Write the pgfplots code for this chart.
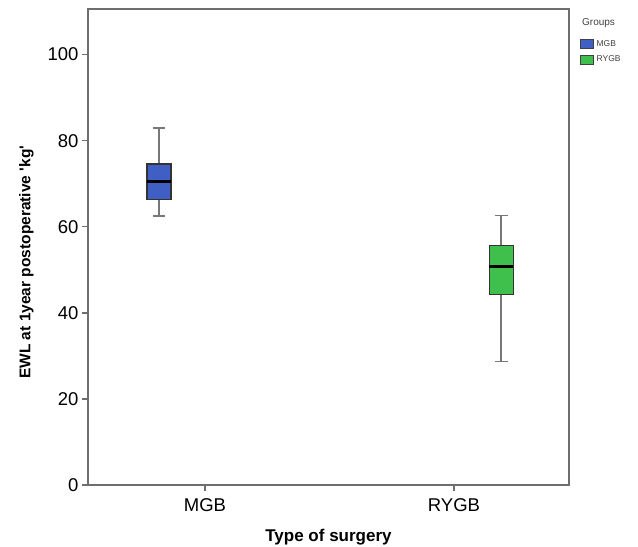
\documentclass[border=0pt]{standalone}
\usepackage{fontspec}
\setmainfont{Liberation Sans}
\usepackage{pgfplots}
\pgfplotsset{compat=1.18}
\definecolor{mgbBlue}{HTML}{3F5FC4}
\definecolor{rygbGreen}{HTML}{3FBF4C}
\definecolor{frameGray}{HTML}{6E6E6E}
\definecolor{whiskGray}{HTML}{777777}

\begin{document}
\begin{tikzpicture}
\begin{axis}[
  name=ax,
  scale only axis,
  width=481bp, height=476bp,
  xmin=0.53, xmax=2.462,
  ymin=0, ymax=110.6,
  xtick={1,2}, xticklabels={MGB,RYGB},
  ytick={0,20,...,100},
  tick align=outside, tick pos=left,
  major tick length=6bp,
  axis line style={frameGray, line width=1.8bp},
  every tick/.style={frameGray, line width=1.4bp},
  tick label style={font=\fontsize{18.5bp}{22bp}\selectfont},
  xticklabel style={yshift=-4bp},
  /pgf/number format/assume math mode=true,
  xlabel style={font=\bfseries\fontsize{17bp}{20bp}\selectfont},
  ylabel style={font=\bfseries\fontsize{15.5bp}{18bp}\selectfont,
    at={(ticklabel cs:0.468)}},
  xlabel shift=11bp,
  ylabel shift=7bp,
  xlabel={Type of surgery},
  ylabel={EWL at 1year postoperative \textquotesingle kg\textquotesingle},
  legend style={at={(1.023,0.937)}, anchor=north west, draw=none, fill=none,
    font=\fontsize{8.5bp}{9bp}\selectfont, inner sep=0pt, row sep=6bp,
    column sep=3bp,
    nodes={inner sep=0pt, text height=6.5bp, text depth=2bp, text=black!75}},
  legend cell align=left,
  legend image code/.code={\draw[#1] (0bp,-4.5bp) rectangle (13bp,4.5bp);},
  whisk/.style={draw=whiskGray, line width=1.8bp, mark=none, forget plot},
  box/.style={draw=black!80, line width=1.2bp, mark=none, forget plot},
  med/.style={draw=black, line width=2.8bp, mark=none, forget plot},
]
% MGB group: whiskers 62.5 / 83.0, quartiles 66.4 / 74.6, median 70.5
\addplot[whisk] coordinates {(0.815,62.5) (0.815,83.0)};
\addplot[whisk] coordinates {(0.79,83.0) (0.84,83.0)};
\addplot[whisk] coordinates {(0.79,62.5) (0.84,62.5)};
\addplot[box, fill=mgbBlue] coordinates
  {(0.767,66.4) (0.863,66.4) (0.863,74.6) (0.767,74.6)} -- cycle;
\addplot[med] coordinates {(0.767,70.5) (0.863,70.5)};
% RYGB group: whiskers 28.7 / 62.6, quartiles 44.2 / 55.7, median 50.8
\addplot[whisk] coordinates {(2.19,28.7) (2.19,62.6)};
\addplot[whisk] coordinates {(2.165,62.6) (2.215,62.6)};
\addplot[whisk] coordinates {(2.165,28.7) (2.215,28.7)};
\addplot[box, fill=rygbGreen] coordinates
  {(2.142,44.2) (2.238,44.2) (2.238,55.7) (2.142,55.7)} -- cycle;
\addplot[med] coordinates {(2.142,50.8) (2.238,50.8)};
\addlegendimage{fill=mgbBlue, draw=black!75}
\addlegendentry{MGB}
\addlegendimage{fill=rygbGreen, draw=black!75}
\addlegendentry{RYGB}
\end{axis}
\node[anchor=west, font=\fontsize{10bp}{11bp}\selectfont, text=black!75, inner sep=0pt]
  at ([shift={(494bp,-14bp)}]ax.north west) {Groups};
\pgfresetboundingbox
\path[use as bounding box] ([shift={(-88bp,-62bp)}]ax.south west)
  rectangle ([shift={(69bp,9bp)}]ax.north east);
\end{tikzpicture}
\end{document}
